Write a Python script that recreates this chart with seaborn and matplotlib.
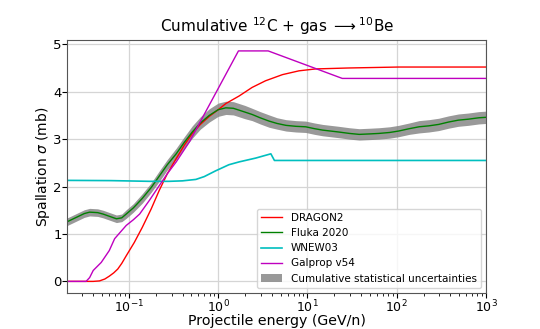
import numpy as np
import pandas as pd
import matplotlib
matplotlib.use("Agg")
import matplotlib.pyplot as plt
import seaborn as sns

# ---- data (log10 of projectile energy in GeV/n, cross section in mb) ----
fluka_logE = [-1.70, -1.60, -1.50, -1.44, -1.35, -1.29, -1.20, -1.14, -1.08, -1.03,
              -0.95, -0.85, -0.75, -0.66, -0.57, -0.47, -0.38, -0.29, -0.20, -0.10,
              0.00, 0.086, 0.17, 0.235, 0.30, 0.38, 0.47, 0.57, 0.66, 0.76,
              0.87, 0.98, 1.08, 1.17, 1.26, 1.35, 1.47, 1.58, 1.70, 1.80,
              1.92, 2.02, 2.14, 2.25, 2.36, 2.47, 2.58, 2.69, 2.80, 2.92, 3.00]
fluka_xs = [1.25, 1.34, 1.43, 1.46, 1.45, 1.42, 1.36, 1.32, 1.34, 1.42,
            1.55, 1.75, 1.98, 2.22, 2.46, 2.69, 2.93, 3.15, 3.34, 3.50,
            3.62, 3.66, 3.65, 3.61, 3.57, 3.52, 3.45, 3.38, 3.33, 3.29,
            3.27, 3.26, 3.22, 3.19, 3.17, 3.15, 3.12, 3.10, 3.11, 3.12,
            3.14, 3.17, 3.22, 3.26, 3.28, 3.31, 3.36, 3.40, 3.42, 3.45, 3.46]
fluka_err = [0.08, 0.08, 0.08, 0.08, 0.08, 0.08, 0.08, 0.08, 0.08, 0.09,
             0.09, 0.10, 0.10, 0.11, 0.11, 0.12, 0.12, 0.13, 0.13, 0.14,
             0.14, 0.14, 0.14, 0.14, 0.14, 0.13, 0.13, 0.13, 0.12, 0.12,
             0.12, 0.12, 0.12, 0.12, 0.12, 0.12, 0.12, 0.12, 0.12, 0.12,
             0.12, 0.12, 0.12, 0.13, 0.13, 0.13, 0.13, 0.13, 0.13, 0.13, 0.13]

dragon_logE = [-1.70, -1.50, -1.40, -1.33, -1.27, -1.22, -1.17, -1.125, -1.08, -1.03,
               -0.94, -0.85, -0.75, -0.66, -0.57, -0.47, -0.38, -0.29, -0.20, -0.10,
               0.00, 0.086, 0.235, 0.38, 0.53, 0.72, 0.905, 1.09, 1.46, 2.02, 3.00]
dragon_xs = [0.0, 0.0, 0.0, 0.01, 0.05, 0.11, 0.18, 0.26, 0.38, 0.54,
             0.82, 1.14, 1.53, 1.92, 2.27, 2.59, 2.87, 3.12, 3.31, 3.48,
             3.62, 3.75, 3.91, 4.09, 4.23, 4.36, 4.44, 4.48, 4.50, 4.52, 4.52]

wnew_logE = [-1.70, -1.20, -0.77, -0.55, -0.40, -0.25, -0.156, -0.03, 0.12, 0.235,
             0.42, 0.59, 0.63, 3.00]
wnew_xs = [2.13, 2.125, 2.11, 2.11, 2.12, 2.15, 2.21, 2.33, 2.46, 2.52,
           2.60, 2.69, 2.55, 2.55]

galprop_logE = [-1.70, -1.48, -1.44, -1.40, -1.31, -1.22, -1.16, -1.10, -1.03, -0.95,
                -0.88, -0.77, -0.66, -0.57, -0.47, -0.32, 0.227, 0.56, 1.39, 3.00]
galprop_xs = [0.0, 0.0, 0.08, 0.23, 0.40, 0.65, 0.90, 1.03, 1.18, 1.30,
              1.42, 1.71, 2.02, 2.27, 2.52, 2.95, 4.86, 4.86, 4.28, 4.28]

labels = ["DRAGON2", "Fluka 2020", "WNEW03", "Galprop v54",
          "Cumulative statistical uncertainties"]
title = r"Cumulative $^{12}$C + gas $\longrightarrow$$^{10}$Be"

# ---- plotting ----
plt.rcParams["font.family"] = ["DejaVu Sans"]
fig = plt.figure(figsize=(5.4, 3.29), dpi=100)
ax = fig.add_axes([0.1246, 0.1094, 0.7754, 0.769])
ax.set_xscale("log")

fE = 10 ** np.array(fluka_logE)
fy = np.array(fluka_xs)
fe = np.array(fluka_err)
band = ax.fill_between(fE, fy - fe, fy + fe, color="grey", alpha=0.8,
                       linewidth=0, label=labels[4], zorder=1)

series = [
    (dragon_logE, dragon_xs, "red", 1.0, labels[0]),
    (fluka_logE, fluka_xs, "green", 1.0, labels[1]),
    (wnew_logE, wnew_xs, "c", 1.2, labels[2]),
    (galprop_logE, galprop_xs, "m", 1.0, labels[3]),
]
handles = []
for lx, ly, col, lw, lab in series:
    df = pd.DataFrame({"E": 10 ** np.array(lx), "xs": ly})
    sns.lineplot(data=df, x="E", y="xs", color=col, linewidth=lw, ax=ax,
                 label=lab, zorder=2, legend=False)
    handles.append(ax.lines[-1])
handles.append(band)

ax.set_xlim(0.0204, 1000)
ax.set_ylim(-0.245, 5.09)
ax.grid(True, which="major", color="#d5d5d5", linewidth=0.9)
ax.set_axisbelow(True)
ax.tick_params(axis="y", which="major", labelsize=9.5, pad=0.5, length=3.5)
ax.tick_params(axis="x", which="major", labelsize=9, pad=0.5, length=3.5)
ax.tick_params(axis="x", which="minor", length=2)
ax.set_yticks([0, 1, 2, 3, 4, 5])
for s in ax.spines.values():
    s.set_color("#555555")
    s.set_linewidth(0.8)

ax.set_xlabel("Projectile energy (GeV/n)", fontsize=10.2)
ax.xaxis.label.set_va("baseline")
ax.xaxis.set_label_coords(0.5, -0.125)
ax.set_ylabel(r"Spallation $\sigma$ (mb)", fontsize=10)
ax.yaxis.label.set_va("baseline")
ax.yaxis.set_label_coords(-0.048, 0.5)
ax.set_title(title, fontsize=11)

ax.legend(handles, labels, loc="lower right", fontsize=7.5, framealpha=0.8)

fig.savefig("out.png", dpi=100)
